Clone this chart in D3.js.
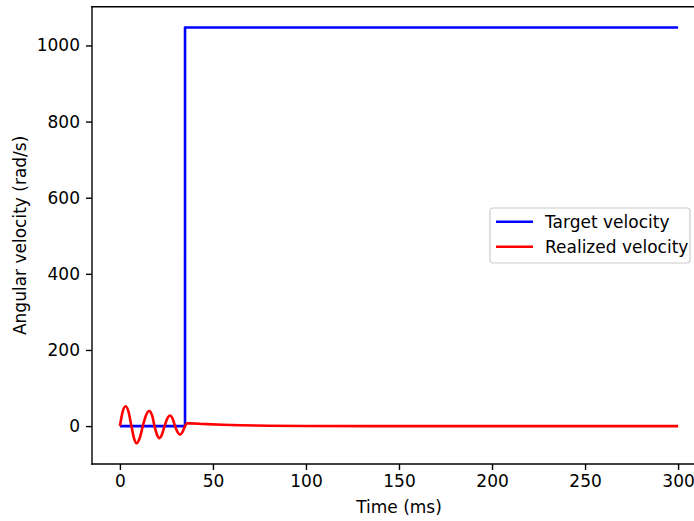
<!DOCTYPE html>
<html>
<head>
<meta charset="utf-8">
<script src="https://cdn.jsdelivr.net/npm/d3@7"></script>
<style>
  body { margin: 0; background: #fff; overflow: hidden; }
  svg { display: block; font-family: 'DejaVu Sans', sans-serif; }
</style>
</head>
<body>
<svg id="viz"></svg>
<script>
// Target velocity: zero, then a step at ~35 ms
const targetTime = [0, 35, 35, 300];
const targetVel = [0, 0, 1047.2, 1047.2];

// Realized velocity (peaks, zero crossings, decay)
const realTime = [0, 1.5, 3.1, 4.6, 6.2, 7.6, 9.0, 10.6, 12.3, 14.0, 15.7, 17.3,
  18.6, 19.9, 21.2, 22.6, 24.0, 25.5, 26.9, 28.3, 29.6, 31.0, 32.3, 33.6,
  35.0, 36.0, 38, 45, 55, 65, 80, 100, 150, 300];
const realVel = [0, 38, 52, 38, 0, -32, -45, -32, 0, 28, 39.5, 28,
  0, -22, -31.5, -22, 0, 20, 28, 20, 0, -16, -22.5, -16,
  0, 7, 7, 5.5, 3.5, 2, 0.8, 0.2, 0, 0];

const xTicks = [0, 50, 100, 150, 200, 250, 300];
const yTicks = [0, 200, 400, 600, 800, 1000];
const seriesNames = ['Target velocity', 'Realized velocity'];
const seriesColors = ['#0000ff', '#ff0000'];

const W = 694, H = 521;
const axLeft = 92, axTop = 6.7, axRight = 706, axBottom = 464;

const svg = d3.select('#viz').attr('width', W).attr('height', H);

// matplotlib style 5% margins
const xExt = [0, 300];
const yExt = d3.extent(targetVel.concat(realVel));
const xPad = (xExt[1] - xExt[0]) * 0.05;
const yPad = (yExt[1] - yExt[0]) * 0.05;

const x = d3.scaleLinear().domain([xExt[0] - xPad, xExt[1] + xPad]).range([axLeft, axRight]);
const y = d3.scaleLinear().domain([yExt[0] - yPad, yExt[1] + yPad]).range([axBottom, axTop]);

svg.append('clipPath').attr('id', 'clip')
  .append('rect')
  .attr('x', axLeft).attr('y', axTop)
  .attr('width', axRight - axLeft).attr('height', axBottom - axTop);

const plot = svg.append('g').attr('clip-path', 'url(#clip)');

const lineStep = d3.line()
  .x((d) => x(d[0]))
  .y((d) => y(d[1]));

const lineSmooth = d3.line()
  .x((d) => x(d[0]))
  .y((d) => y(d[1]))
  .curve(d3.curveMonotoneX);

plot.append('path')
  .datum(targetTime.map((t, i) => [t, targetVel[i]]))
  .attr('d', lineStep)
  .attr('fill', 'none')
  .attr('stroke', seriesColors[0])
  .attr('stroke-width', 2.6)
  .attr('stroke-linejoin', 'round');

plot.append('path')
  .datum(realTime.map((t, i) => [t, realVel[i]]))
  .attr('d', lineSmooth)
  .attr('fill', 'none')
  .attr('stroke', seriesColors[1])
  .attr('stroke-width', 2.6)
  .attr('stroke-linejoin', 'round');

// axes
const xAxis = svg.append('g')
  .attr('transform', 'translate(0,' + axBottom + ')')
  .call(d3.axisBottom(x).tickValues(xTicks).tickFormat(d3.format('d'))
    .tickSize(6).tickPadding(5).tickSizeOuter(0));

const yAxis = svg.append('g')
  .attr('transform', 'translate(' + axLeft + ',0)')
  .call(d3.axisLeft(y).tickValues(yTicks).tickFormat(d3.format('d'))
    .tickSize(6).tickPadding(6).tickSizeOuter(0));

[xAxis, yAxis].forEach((a) => {
  a.select('.domain').remove();
  a.selectAll('line').attr('stroke', '#000').attr('stroke-width', 1.4);
  a.selectAll('text').attr('fill', '#000')
    .style('font-size', '17px').style('font-family', 'DejaVu Sans, sans-serif');
});

// spines (right one falls outside the picture)
const spines = [
  [axLeft, axTop, axLeft, axBottom],
  [axLeft, axBottom, axRight, axBottom],
  [axLeft, axTop, axRight, axTop],
];
svg.append('g')
  .selectAll('line')
  .data(spines)
  .join('line')
  .attr('x1', (d) => d[0]).attr('y1', (d) => d[1])
  .attr('x2', (d) => d[2]).attr('y2', (d) => d[3])
  .attr('stroke', '#000')
  .attr('stroke-width', 1.4)
  .attr('stroke-linecap', 'square');

// axis labels
svg.append('text')
  .attr('x', (axLeft + axRight) / 2)
  .attr('y', 513)
  .attr('text-anchor', 'middle')
  .style('font-size', '17px')
  .text('Time (ms)');

svg.append('text')
  .attr('transform', 'translate(26,' + (axTop + axBottom) / 2 + ') rotate(-90)')
  .attr('text-anchor', 'middle')
  .style('font-size', '17px')
  .text('Angular velocity (rad/s)');

// legend
const leg = svg.append('g').attr('transform', 'translate(490,208)');
leg.append('rect')
  .attr('width', 200).attr('height', 55)
  .attr('rx', 3)
  .attr('fill', 'rgba(255,255,255,0.8)')
  .attr('stroke', '#cccccc')
  .attr('stroke-width', 1.2);

seriesNames.forEach((name, i) => {
  const yy = 13.7 + i * 25;
  leg.append('line')
    .attr('x1', 6).attr('x2', 43)
    .attr('y1', yy).attr('y2', yy)
    .attr('stroke', seriesColors[i])
    .attr('stroke-width', 2.6);
  leg.append('text')
    .attr('x', 55).attr('y', yy)
    .attr('dy', '0.35em')
    .style('font-size', '17px')
    .text(name);
});
</script>
</body>
</html>
